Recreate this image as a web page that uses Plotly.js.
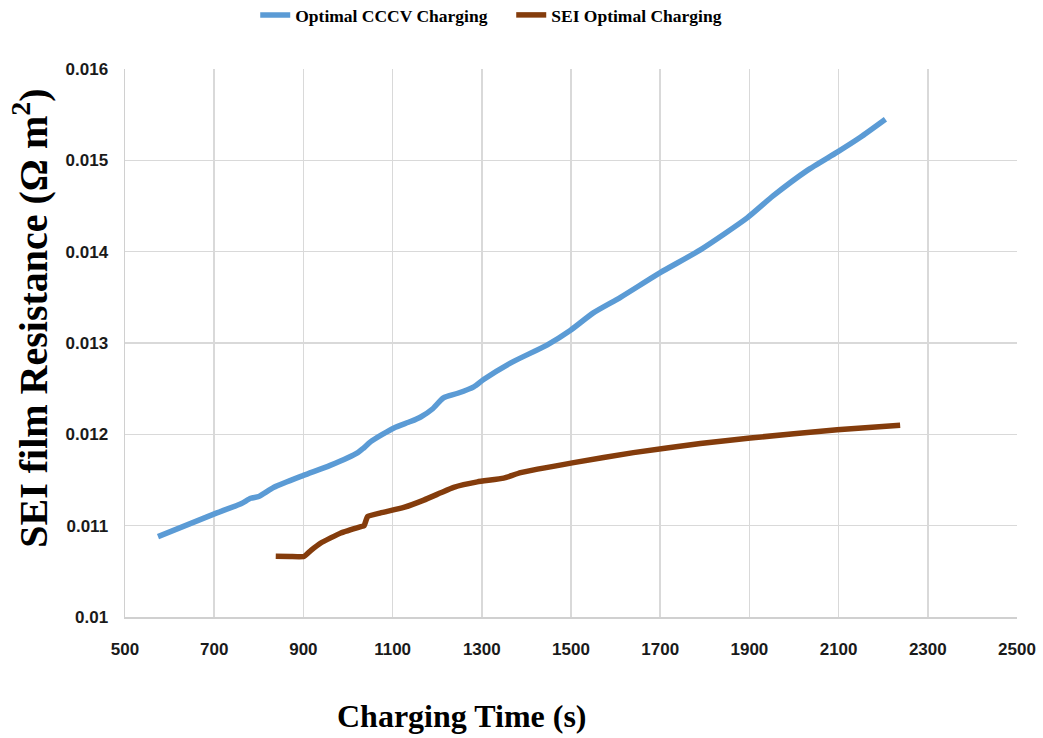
<!DOCTYPE html>
<html>
<head>
<meta charset="utf-8">
<script src="https://cdn.plot.ly/plotly-3.0.1.min.js"></script>
<style>html,body{margin:0;padding:0;background:#fff;}#chart{width:1043px;height:738px;}</style>
</head>
<body>
<div id="chart"></div>
<script>
// Optimal CCCV Charging
const cccvTime = [574, 706, 760, 782, 800, 834, 900, 960, 1022, 1035, 1051, 1103, 1140, 1163, 1190, 1214, 1246, 1282, 1304, 1364, 1447, 1499, 1550, 1611, 1700, 1790, 1895, 1953, 2030, 2097, 2148, 2205];
const cccvR = [0.01088, 0.01114, 0.01124, 0.01130, 0.01132, 0.01142, 0.01155, 0.01166, 0.01180, 0.01185, 0.01192, 0.01207, 0.01214, 0.01219, 0.01228, 0.01240, 0.01245, 0.01252, 0.01260, 0.01278, 0.01298, 0.01314, 0.01333, 0.01350, 0.01377, 0.01402, 0.01437, 0.01461, 0.01489, 0.01509, 0.01525, 0.01545];
// SEI Optimal Charging
const seiTime = [838, 870, 901, 917, 939, 984, 1029, 1036, 1044, 1073, 1125, 1170, 1208, 1237, 1290, 1349, 1387, 1506, 1640, 1790, 1902, 2097, 2238];
const seiR = [0.010665, 0.010662, 0.010662, 0.01073, 0.01081, 0.01092, 0.01099, 0.01100, 0.01110, 0.01114, 0.01120, 0.01128, 0.01136, 0.01142, 0.01148, 0.01152, 0.01158, 0.01169, 0.01180, 0.01190, 0.01196, 0.01205, 0.01210];
// Tick labels
const xTicks = [500, 700, 900, 1100, 1300, 1500, 1700, 1900, 2100, 2300, 2500];
const yTicks = [0.010, 0.011, 0.012, 0.013, 0.014, 0.015, 0.016];
const yTickText = ['0.01', '0.011', '0.012', '0.013', '0.014', '0.015', '0.016'];
const xTitle = 'Charging Time (s)';
const yTitle = 'SEI film Resistance (Ω m<sup>2</sup>)';

const tickFont = {family: '"Liberation Sans Narrow", "Liberation Sans", Arial, sans-serif', size: 17, color: '#1a1a1a', weight: 'bold'};
const serif = '"Liberation Serif", "Times New Roman", serif';

const traces = [
  {x: cccvTime, y: cccvR, name: 'Optimal CCCV Charging', mode: 'lines', line: {color: '#5B9BD5', width: 5.5, shape: 'spline', smoothing: 0.6}},
  {x: seiTime, y: seiR, name: 'SEI Optimal Charging', mode: 'lines', line: {color: '#843C0C', width: 5.5, shape: 'spline', smoothing: 0.4}}
];

const layout = {
  width: 1043, height: 738,
  margin: {l: 125, r: 26, t: 69, b: 121, autoexpand: false},
  paper_bgcolor: '#fff', plot_bgcolor: '#fff',
  showlegend: true,
  legend: {orientation: 'h', x: 0.146, xanchor: 'left', y: 1.0985, yanchor: 'middle',
    font: {family: serif, size: 17.5, color: '#000', weight: 'bold'},
    entrywidth: 211, entrywidthmode: 'pixels', tracegroupgap: 0},
  xaxis: {
    range: [500, 2500], tickvals: xTicks, ticktext: xTicks.map(String),
    showgrid: true, gridcolor: '#d9d9d9', gridwidth: 1.5,
    showline: true, linecolor: '#d0d0d0', linewidth: 1.5, mirror: false,
    zeroline: false, ticks: '', tickfont: tickFont, ticklabelstandoff: 16
  },
  yaxis: {
    range: [0.010, 0.016], tickvals: yTicks, ticktext: yTickText,
    showgrid: true, gridcolor: '#d9d9d9', gridwidth: 1.5,
    showline: true, linecolor: '#d0d0d0', linewidth: 1.5,
    zeroline: false, ticks: '', tickfont: tickFont, ticklabelstandoff: 12
  },
  annotations: [
    {text: xTitle, xref: 'paper', yref: 'paper', x: 0.378, y: -0.18, xanchor: 'center', yanchor: 'middle', showarrow: false,
     font: {family: serif, size: 32, color: '#000', weight: 'bold'}},
    {text: yTitle, xref: 'paper', yref: 'paper', x: -0.106, y: 0.545, xanchor: 'center', yanchor: 'middle', showarrow: false, textangle: -90,
     font: {family: serif, size: 40, color: '#000', weight: 'bold'}}
  ]
};

Plotly.newPlot('chart', traces, layout, {displayModeBar: false, staticPlot: true});
</script>
</body>
</html>
